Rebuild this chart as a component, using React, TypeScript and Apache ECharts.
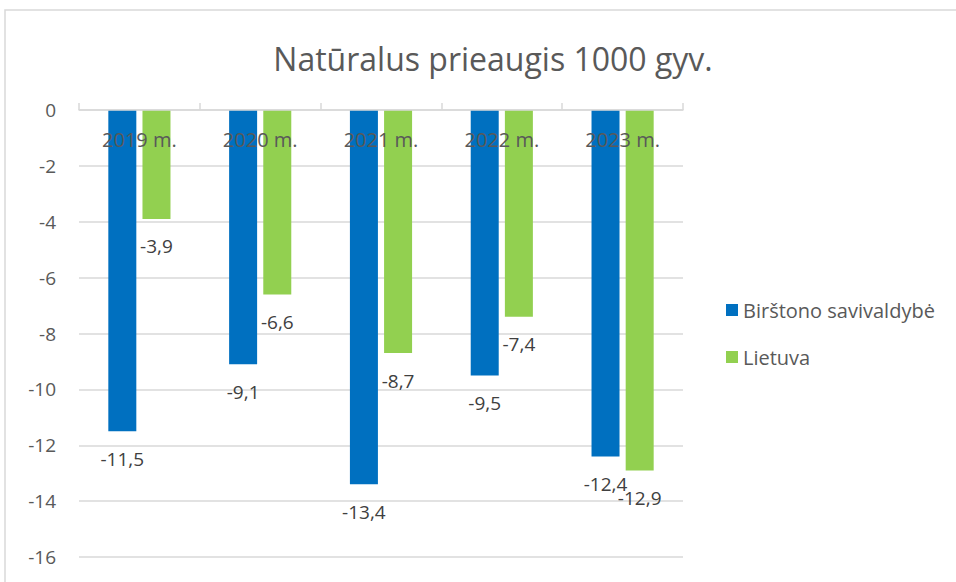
import React, { useEffect, useRef } from "react";
import * as echarts from "echarts";

const categories = ["2019 m.", "2020 m.", "2021 m.", "2022 m.", "2023 m."];
const birstonas = [-11.5, -9.1, -13.4, -9.5, -12.4];
const lietuva = [-3.9, -6.6, -8.7, -7.4, -12.9];
const seriesNames = ["Birštono savivaldybė", "Lietuva"];
const titleText = "Natūralus prieaugis 1000 gyv.";

const FONT = "'Open Sans', 'Noto Sans', sans-serif";
const fmt = (v: number) => String(v).replace(".", ",");

export default function App() {
  const ref = useRef<HTMLDivElement>(null);
  useEffect(() => {
    if (!ref.current) return;
    const chart = echarts.init(ref.current, undefined, { renderer: "svg" });
    const labelCfg = {
      show: true,
      position: "bottom" as const,
      distance: 18,
      fontSize: 19,
      fontFamily: FONT,
      color: "#404040",
      formatter: (p: any) => fmt(p.value),
    };
    chart.setOption({
      animation: false,
      backgroundColor: "#ffffff",
      textStyle: { fontFamily: FONT },
      title: {
        text: titleText,
        left: 488,
        textAlign: "center",
        top: 37,
        textStyle: { fontSize: 32, fontWeight: "normal", color: "#595959", fontFamily: FONT },
      },
      graphic: [
        {
          type: "rect",
          shape: { x: 5, y: 10, width: 1000, height: 700 },
          style: { fill: "none", stroke: "#d9d9d9", lineWidth: 1.5 },
          silent: true,
          z: -10,
        },
      ],
      legend: {
        orient: "vertical",
        left: 721,
        top: 295,
        itemWidth: 12,
        itemHeight: 12,
        itemGap: 27,
        icon: "rect",
        textStyle: { fontSize: 20, color: "#595959", fontFamily: FONT },
        data: seriesNames,
      },
      grid: { left: 79, right: 273, top: 110, bottom: 25, containLabel: false, outerBoundsMode: "none" },
      xAxis: {
        type: "category",
        position: "top",
        data: categories,
        axisLine: { onZero: false, lineStyle: { color: "#d9d9d9", width: 1.5 } },
        axisTick: { show: true, inside: false, length: 7, lineStyle: { color: "#d9d9d9", width: 1.5 } },
        axisLabel: { inside: true, fontSize: 20, color: "#595959", margin: 19, fontFamily: FONT },
        z: 10,
      },
      yAxis: {
        type: "value",
        min: -16,
        max: 0,
        interval: 2,
        axisLine: { show: false },
        axisTick: { show: false },
        axisLabel: { fontSize: 19, color: "#595959", margin: 23, fontFamily: FONT },
        splitLine: { lineStyle: { color: "#d9d9d9", width: 1.5 } },
      },
      series: [
        {
          name: seriesNames[0],
          type: "bar",
          data: birstonas,
          barWidth: 28,
          barGap: "22%",
          itemStyle: { color: "#0070c0" },
          label: labelCfg,
        },
        {
          name: seriesNames[1],
          type: "bar",
          data: lietuva,
          barWidth: 28,
          itemStyle: { color: "#92d050" },
          label: labelCfg,
        },
      ],
    });
    return () => chart.dispose();
  }, []);
  return (
    <div
      ref={ref}
      style={{ position: "fixed", left: 0, top: 0, width: 956, height: 582 }}
    />
  );
}
